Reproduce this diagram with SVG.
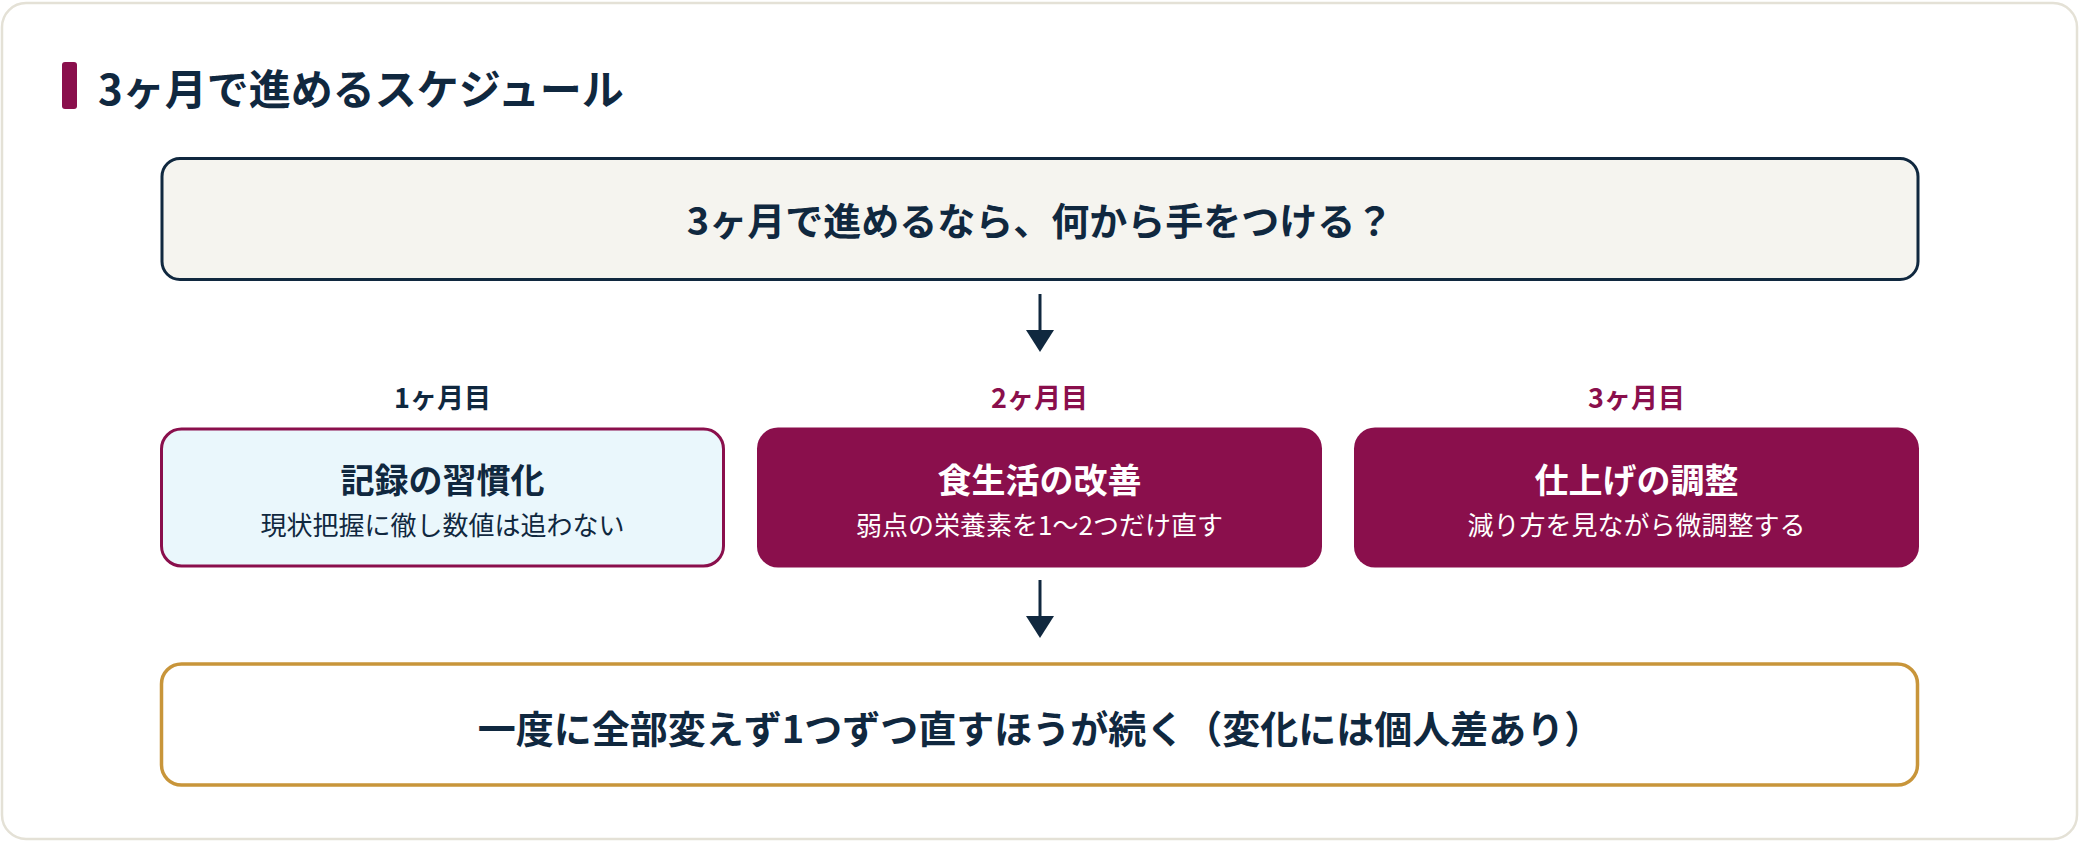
<svg xmlns="http://www.w3.org/2000/svg" width="2080" height="842" viewBox="0 0 2080 842">
  <defs>
    <style>
      text { font-family: "Noto Sans CJK JP", "Noto Sans", sans-serif; }
      .navy { fill: #10283f; }
      .maroon { fill: #8a0f4c; }
      .white { fill: #ffffff; }
      .bold { font-weight: 700; }
      .mid { text-anchor: middle; }
      .head { font-size: 34px; font-weight: 700; }
      .sub { font-size: 26px; font-weight: 400; }
      .month { font-size: 27px; font-weight: 700; text-anchor: middle; }
      .conn line { stroke: #10283f; stroke-width: 3; }
      .conn polygon { fill: #10283f; }
    </style>
  </defs>

  <rect x="0" y="0" width="2080" height="842" fill="#ffffff"/>
  <rect id="card" x="2" y="3" width="2075" height="836" rx="24" fill="#ffffff" stroke="#e4e1d6" stroke-width="2.5"/>

  <g id="title">
    <rect x="62" y="62" width="15" height="47" rx="3" class="maroon"/>
    <text x="98" y="105" font-size="42" class="bold navy">3ヶ月で進めるスケジュール</text>
  </g>

  <g id="question">
    <rect x="162" y="158.5" width="1756" height="121" rx="18" fill="#f5f4ef" stroke="#10283f" stroke-width="3"/>
    <text x="1040" y="235" font-size="38" class="bold navy mid">3ヶ月で進めるなら、何から手をつける？</text>
  </g>

  <g id="connectors" class="conn">
    <line x1="1040" y1="294" x2="1040" y2="332"/>
    <polygon points="1026,330 1054,330 1040,352"/>
    <line x1="1040" y1="580" x2="1040" y2="618"/>
    <polygon points="1026,616 1054,616 1040,638"/>
  </g>

  <g id="month1">
    <text x="442.5" y="408" class="month navy">1ヶ月目</text>
    <rect x="161.5" y="429" width="562" height="137" rx="20" fill="#eaf7fc" stroke="#8a0f4c" stroke-width="3"/>
    <text x="442.5" y="493" class="head navy mid">記録の習慣化</text>
    <text x="442.5" y="535" class="sub navy mid">現状把握に徹し数値は追わない</text>
  </g>

  <g id="month2">
    <text x="1039.5" y="408" class="month maroon">2ヶ月目</text>
    <rect x="757" y="427.5" width="565" height="140" rx="21" class="maroon"/>
    <text x="1039.5" y="493" class="head white mid">食生活の改善</text>
    <text x="1039.5" y="535" class="sub white mid">弱点の栄養素を1〜2つだけ直す</text>
  </g>

  <g id="month3">
    <text x="1636.5" y="408" class="month maroon">3ヶ月目</text>
    <rect x="1354" y="427.5" width="565" height="140" rx="21" class="maroon"/>
    <text x="1636.5" y="493" class="head white mid">仕上げの調整</text>
    <text x="1636.5" y="535" class="sub white mid">減り方を見ながら微調整する</text>
  </g>

  <g id="conclusion">
    <rect x="161.5" y="664" width="1756" height="121" rx="20" fill="#ffffff" stroke="#c8953a" stroke-width="3.5"/>
    <text x="1040" y="743" font-size="38" class="bold navy mid">一度に全部変えず1つずつ直すほうが続く（変化には個人差あり）</text>
  </g>
</svg>
